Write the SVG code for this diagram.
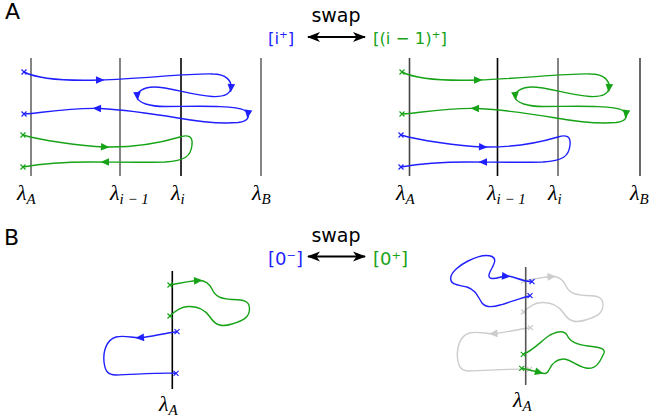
<svg xmlns="http://www.w3.org/2000/svg" xmlns:xlink="http://www.w3.org/1999/xlink" width="654" height="419" viewBox="0 0 654 419">
<style>
.sans{font-family:"DejaVu Sans",sans-serif;}
.lam{font-family:"Liberation Serif","DejaVu Serif",serif;font-style:italic;font-size:22px;fill:#000;}
.sub{font-size:15px;}
.cv{fill:none;stroke-width:1.4;}
.sb{stroke:#1f1fff;} .sg{stroke:#17a317;} .sy{stroke:#cccccc;}
.fb{fill:#1f1fff;} .fg{fill:#17a317;} .fy{fill:#cccccc;}
.xb{stroke:#1f1fff;stroke-width:1.2;fill:none;} .xg{stroke:#17a317;stroke-width:1.2;fill:none;} .xy{stroke:#cccccc;stroke-width:1.2;fill:none;}
.vl{stroke-width:1.6;}
.lb{fill:#1f1fff;} .lg{fill:#17a317;}
</style>
<defs>
<path id="ah" d="M4.5,0 L-4,-3.8 L-4,3.8 Z"/>
<path id="cx" d="M-2.5,-2.5 L2.5,2.5 M-2.5,2.5 L2.5,-2.5"/>
<marker id="bk" viewBox="0 0 13 11" refX="12" refY="5.5" markerWidth="13" markerHeight="11" markerUnits="userSpaceOnUse" orient="auto-start-reverse"><path d="M0,0.5 L13,5.5 L0,10.5 L3.5,5.5 Z" fill="#000"/></marker>
</defs>

<!-- Panel labels -->
<text class="sans" x="5" y="19" font-size="22">A</text>
<text class="sans" x="4" y="245" font-size="22">B</text>

<!-- Swap A -->
<g id="swapA">
<text class="sans" x="336" y="22" font-size="19" text-anchor="middle">swap</text>
<text class="sans lb" x="268" y="43.5" font-size="16.5">[i⁺]</text>
<text class="sans lg" x="373" y="43.5" font-size="16.5">[(i − 1)⁺]</text>
<line x1="308" y1="37" x2="365" y2="37" stroke="#000" stroke-width="2.2" marker-start="url(#bk)" marker-end="url(#bk)"/>
</g>

<!-- Swap B -->
<g id="swapB">
<text class="sans" x="336" y="242" font-size="19" text-anchor="middle">swap</text>
<text class="sans lb" x="268" y="264.5" font-size="18">[0⁻]</text>
<text class="sans lg" x="373" y="264.5" font-size="18">[0⁺]</text>
<line x1="308" y1="256.5" x2="365" y2="256.5" stroke="#000" stroke-width="2.2" marker-start="url(#bk)" marker-end="url(#bk)"/>
</g>

<!-- Panel A left -->
<g id="A-left">
<line class="vl" x1="31" y1="58" x2="31" y2="176" stroke="#666"/>
<line class="vl" x1="120" y1="58" x2="120" y2="176" stroke="#666"/>
<line class="vl" x1="181" y1="58" x2="181" y2="176" stroke="#000"/>
<line class="vl" x1="261" y1="58" x2="261" y2="176" stroke="#666"/>
<g id="A-left-blue">
<path class="cv sb" d="M24,72 C40,80 70,81 100,80 C140,79 190,73 213,74 C226,74 232,81 231,88 C230,95 222,97 212,96.5 C192,95.5 170,87 154,87 C144,87 136,92 137,97 C138,103 150,106.5 165,106.5 C195,106.5 235,105 244,110 C251,114 250,121 238,122.5 C220,124 195,121 178,118 C160,115 130,110 100,108.5 C70,107.5 40,113 25,114"/>
<use href="#ah" class="fb" transform="translate(100,80) rotate(-1)"/>
<use href="#ah" class="fb" transform="translate(231,88) rotate(95)"/>
<use href="#ah" class="fb" transform="translate(137.3,96) rotate(85)"/>
<use href="#ah" class="fb" transform="translate(248,114) rotate(98)"/>
<use href="#ah" class="fb" transform="translate(97,108.4) rotate(182)"/>
<use href="#cx" class="xb" transform="translate(24,72)"/>
<use href="#cx" class="xb" transform="translate(24,114)"/>
</g>
<g id="A-left-green">
<path class="cv sg" d="M23,135 C40,140 80,146 105,147 C135,147.5 160,143 180,137 C188,134.5 193,136 192,145 C191,156 185,161 165,162 C140,162.5 110,162 90,162 C65,162 40,164 23,167"/>
<use href="#ah" class="fg" transform="translate(105,147) rotate(3)"/>
<use href="#ah" class="fg" transform="translate(105,162) rotate(180)"/>
<use href="#cx" class="xg" transform="translate(23,135)"/>
<use href="#cx" class="xg" transform="translate(23,167)"/>
</g>
<text class="lam" x="17" y="200">λ<tspan class="sub" dy="4">A</tspan></text>
<text class="lam" x="110" y="200">λ<tspan class="sub" dy="4">i − 1</tspan></text>
<text class="lam" x="171" y="200">λ<tspan class="sub" dy="4">i</tspan></text>
<text class="lam" x="252" y="200">λ<tspan class="sub" dy="4">B</tspan></text>
</g>

<!-- Panel A right -->
<g id="A-right">
<line class="vl" x1="409.5" y1="58" x2="409.5" y2="176" stroke="#444"/>
<line class="vl" x1="497.5" y1="58" x2="497.5" y2="176" stroke="#000"/>
<line class="vl" x1="558" y1="58" x2="558" y2="176" stroke="#666"/>
<line class="vl" x1="640" y1="58" x2="640" y2="176" stroke="#444"/>
<g id="A-right-green" transform="translate(378,0)">
<path class="cv sg" d="M24,72 C40,80 70,81 100,80 C140,79 190,73 213,74 C226,74 232,81 231,88 C230,95 222,97 212,96.5 C192,95.5 170,87 154,87 C144,87 136,92 137,97 C138,103 150,106.5 165,106.5 C195,106.5 235,105 244,110 C251,114 250,121 238,122.5 C220,124 195,121 178,118 C160,115 130,110 100,108.5 C70,107.5 40,113 25,114"/>
<use href="#ah" class="fg" transform="translate(100,80) rotate(-1)"/>
<use href="#ah" class="fg" transform="translate(231,88) rotate(95)"/>
<use href="#ah" class="fg" transform="translate(137.3,96) rotate(85)"/>
<use href="#ah" class="fg" transform="translate(248,114) rotate(98)"/>
<use href="#ah" class="fg" transform="translate(97,108.4) rotate(182)"/>
<use href="#cx" class="xg" transform="translate(24,72)"/>
<use href="#cx" class="xg" transform="translate(24,114)"/>
</g>
<g id="A-right-blue" transform="translate(378,0)">
<path class="cv sb" d="M23,135 C40,140 80,146 105,147 C135,147.5 160,143 180,137 C188,134.5 193,136 192,145 C191,156 185,161 165,162 C140,162.5 110,162 90,162 C65,162 40,164 23,167"/>
<use href="#ah" class="fb" transform="translate(105,147) rotate(3)"/>
<use href="#ah" class="fb" transform="translate(105,162) rotate(180)"/>
<use href="#cx" class="xb" transform="translate(23,135)"/>
<use href="#cx" class="xb" transform="translate(23,167)"/>
</g>
<text class="lam" x="396" y="200">λ<tspan class="sub" dy="4">A</tspan></text>
<text class="lam" x="487" y="200">λ<tspan class="sub" dy="4">i − 1</tspan></text>
<text class="lam" x="548" y="200">λ<tspan class="sub" dy="4">i</tspan></text>
<text class="lam" x="630" y="200">λ<tspan class="sub" dy="4">B</tspan></text>
</g>

<!-- Panel B left -->
<g id="B-left">
<line class="vl" x1="172.3" y1="271" x2="172.3" y2="389" stroke="#000"/>
<g id="B-left-green">
<path class="cv sg" d="M170,285 C180,283 190,281 198,280.5 C205,280 209,283 212,289 C215,296 220,299 232,299.5 C243,300 249,300 249.5,308 C250,318 242,321 232,324 C222,327 216,326 210,317 C204,308 196,306 188,306.5 C180,307 174,312 170,316"/>
<use href="#ah" class="fg" transform="translate(198,280.6) rotate(-4)"/>
<use href="#cx" class="xg" transform="translate(170,285)"/>
<use href="#cx" class="xg" transform="translate(170,316)"/>
</g>
<g id="B-left-blue">
<path class="cv sb" d="M177,331.7 C165,333 150,337 140,337.7 C132,338 125,335 116,337 C106,340 103,352 104,362 C105,370 107,375 116,375 C135,374.5 160,372.5 176,373.3"/>
<use href="#ah" class="fb" transform="translate(140,337.7) rotate(175)"/>
<use href="#cx" class="xb" transform="translate(177,331.7)"/>
<use href="#cx" class="xb" transform="translate(176,373.3)"/>
</g>
<text class="lam" x="159" y="411">λ<tspan class="sub" dy="4">A</tspan></text>
</g>

<!-- Panel B right -->
<g id="B-right">
<g id="B-right-gray" transform="translate(353.5,-4)">
<path class="cv sy" d="M170,285 C180,283 190,281 198,280.5 C205,280 209,283 212,289 C215,296 220,299 232,299.5 C243,300 249,300 249.5,308 C250,318 242,321 232,324 C222,327 216,326 210,317 C204,308 196,306 188,306.5 C180,307 174,312 170,316"/>
<use href="#ah" class="fy" transform="translate(198,280.6) rotate(-4)"/>
<use href="#cx" class="xy" transform="translate(170,285)"/>
<use href="#cx" class="xy" transform="translate(170,316)"/>
<path class="cv sy" d="M177,331.7 C165,333 150,337 140,337.7 C132,338 125,335 116,337 C106,340 103,352 104,362 C105,370 107,375 116,375 C135,374.5 160,372.5 176,373.3"/>
<use href="#ah" class="fy" transform="translate(140,337.7) rotate(175)"/>
<use href="#cx" class="xy" transform="translate(177,331.7)"/>
<use href="#cx" class="xy" transform="translate(176,373.3)"/>
</g>
<line class="vl" x1="525.7" y1="267" x2="525.7" y2="385" stroke="#555"/>
<g id="B-right-blue">
<path class="cv sb" d="M530,295.7 C522,297.5 508,303 500,305 C492,307.5 486,308 482,303 C478,297 476,290 467,287 C458,285 450,285 450.7,278 C451,272 460,265 468,261 C476,257 486,254 492,256.5 C497,259 494,264 492,268 C489,273 487,278 492,278.5 C497,279 502,276 507,276 C514,276 520,281 532,281.7"/>
<use href="#ah" class="fb" transform="translate(506,276.2) rotate(5)"/>
<use href="#cx" class="xb" transform="translate(532,281.7)"/>
<use href="#cx" class="xb" transform="translate(530,295.7)"/>
</g>
<g id="B-right-green">
<path class="cv sg" d="M521.7,368.3 C528,369.5 534,371 539,372.3 C543,373.5 547,375 549,370 C552,363 556,359.5 563,359 C570,358.5 576,366 586,368 C596,370 600,362 604,353 C606,348 597,347 588,346 C578,345 570,342 567,335 C564,330 558,331 550,335 C542,340 534,350 523.3,354.3"/>
<use href="#ah" class="fg" transform="translate(539,372.3) rotate(15)"/>
<use href="#cx" class="xg" transform="translate(521.7,368.3)"/>
<use href="#cx" class="xg" transform="translate(523.3,354.3)"/>
</g>
<text class="lam" x="513" y="407">λ<tspan class="sub" dy="4">A</tspan></text>
</g>
</svg>
